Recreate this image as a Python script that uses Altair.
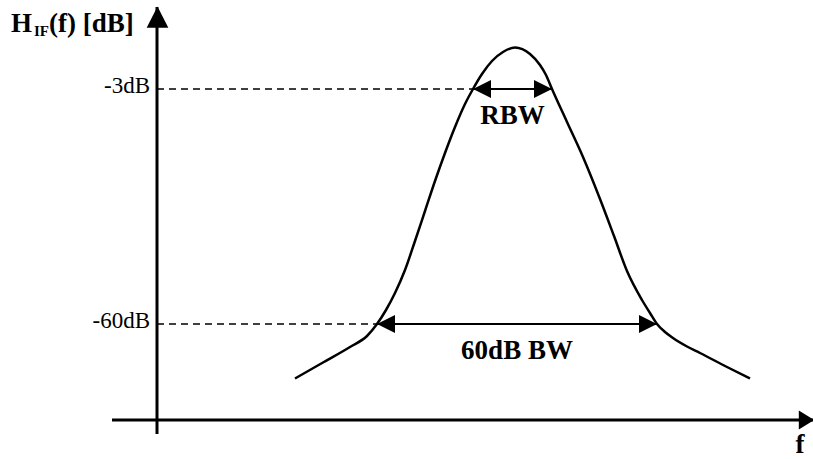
import altair as alt
import pandas as pd

# Drawing frame: frequency measured from the level axis, level measured from the frequency axis
F_DOMAIN = [-157, 656]
LEVEL_DOMAIN = [-39, 420]

# IF filter response (left skirt -> peak -> right skirt)
curve_f = [138, 166, 193, 210, 220, 229, 238, 248, 258, 268, 278, 288, 298, 308,
           316, 325, 335, 346, 358,
           373, 383, 389, 395, 410, 426, 443, 457, 470, 485, 493, 500, 508, 516,
           530, 543, 570, 593]
curve_level = [41.5, 57.5, 73, 84, 96, 110, 127, 150, 179, 209, 239, 267, 293, 316,
               331, 346, 359, 368, 372.5,
               366, 355, 345, 331, 298, 263, 221, 184, 149, 120, 107, 96, 88, 82,
               73.5, 67, 53, 41.5]

# Reference levels and where the response crosses them
ref_names = ["-3dB", "-60dB"]
ref_level = [331, 96]
ref_left_f = [316, 220]
ref_right_f = [395, 500]
bw_names = ["RBW", "60dB BW"]

# Axis extents
freq_axis_f = [-45, 657]
level_axis_level = [-14, 413]

# Axis titles
title_parts = ["H", "IF", "(f) [dB]"]
title_f = [-146, -123, -108]
title_level = [388, 384, 388]
title_size = [27, 15, 27]
freq_name = "f"
freq_name_f = 643

SERIF = "Liberation Serif"

x_scale = alt.Scale(domain=F_DOMAIN, nice=False, zero=False)
y_scale = alt.Scale(domain=LEVEL_DOMAIN, nice=False, zero=False)


def X(field):
    return alt.X(field, type="quantitative", scale=x_scale, axis=None)


def Y(field):
    return alt.Y(field, type="quantitative", scale=y_scale, axis=None)


curve_df = pd.DataFrame({"f": curve_f, "level": curve_level, "order": range(len(curve_f))})
ref_df = pd.DataFrame({
    "name": ref_names, "level": ref_level, "left": ref_left_f, "right": ref_right_f,
    "bw": bw_names, "zero": [0, 0],
})
ref_df["mid"] = (ref_df["left"] + ref_df["right"]) / 2

axes_df = pd.DataFrame({
    "f": [freq_axis_f[0], 0], "f2": [freq_axis_f[1], 0],
    "level": [0, level_axis_level[0]], "level2": [0, level_axis_level[1]],
})
title_df = pd.DataFrame({"text": title_parts, "f": title_f, "level": title_level, "size": title_size})

# Response curve
curve = alt.Chart(curve_df).mark_line(
    color="black", strokeWidth=2.5, interpolate="monotone"
).encode(x=X("f"), y=Y("level"), order="order:Q")

# Axes
axes = alt.Chart(axes_df).mark_rule(color="black", strokeWidth=3).encode(
    x=X("f"), x2="f2", y=Y("level"), y2="level2"
)

up_head = alt.Chart(pd.DataFrame({"f": [0.5], "level": [level_axis_level[1] + 0.5]})).mark_point(
    shape="M0,0L-1,1.95L1,1.95Z", size=470, filled=True, color="black", opacity=1, strokeWidth=0
).encode(x=X("f"), y=Y("level"))

right_axis_head = alt.Chart(pd.DataFrame({"f": [freq_axis_f[1]], "level": [0]})).mark_point(
    shape="M0,0L-1.6,-1L-1.6,1Z", size=360, filled=True, color="black", opacity=1, strokeWidth=0
).encode(x=X("f"), y=Y("level"))

# Dashed reference levels from the level axis to the response
dashes = alt.Chart(ref_df).mark_rule(color="black", strokeWidth=1.4, strokeDash=[7, 5]).encode(
    x=X("zero"), x2="left", y=Y("level")
)

level_text = alt.Chart(ref_df).mark_text(
    font=SERIF, fontSize=23, align="right", baseline="alphabetic", dx=-7, dy=4, color="black"
).encode(x=X("zero"), y=Y("level"), text="name:N")

# Bandwidth arrows
shafts = alt.Chart(ref_df).mark_rule(color="black", strokeWidth=2).encode(
    x=X("left"), x2="right", y=Y("level")
)
left_heads = alt.Chart(ref_df).mark_point(
    shape="M0,0L2,-1L2,1Z", size=324, filled=True, color="black", opacity=1, strokeWidth=0
).encode(x=X("left"), y=Y("level"))
right_heads = alt.Chart(ref_df).mark_point(
    shape="M0,0L-2,-1L-2,1Z", size=324, filled=True, color="black", opacity=1, strokeWidth=0
).encode(x=X("right"), y=Y("level"))

bw_text = alt.Chart(ref_df).mark_text(
    font=SERIF, fontSize=27, fontWeight="bold", align="center", baseline="alphabetic",
    dy=35, color="black"
).encode(x=X("mid"), y=Y("level"), text="bw:N")

# Axis titles
titles = alt.Chart(title_df).mark_text(
    font=SERIF, fontWeight="bold", align="left", baseline="alphabetic", color="black"
).encode(x=X("f"), y=Y("level"), text="text:N", size=alt.Size("size:Q", scale=None, legend=None))

f_title = alt.Chart(pd.DataFrame({"f": [freq_name_f], "level": [0], "text": [freq_name]})).mark_text(
    font=SERIF, fontSize=27, fontWeight="bold", align="center", baseline="alphabetic",
    dy=33, color="black"
).encode(x=X("f"), y=Y("level"), text="text:N")

chart = alt.layer(
    dashes, axes, up_head, right_axis_head, curve, shafts, left_heads, right_heads,
    level_text, bw_text, titles, f_title
).properties(
    width=813, height=459, autosize=alt.AutoSizeParams(type="none"), padding=0,
    background="white"
).configure_view(stroke=None)

chart.save("out.html", embed_options={"renderer": "svg", "actions": False})
